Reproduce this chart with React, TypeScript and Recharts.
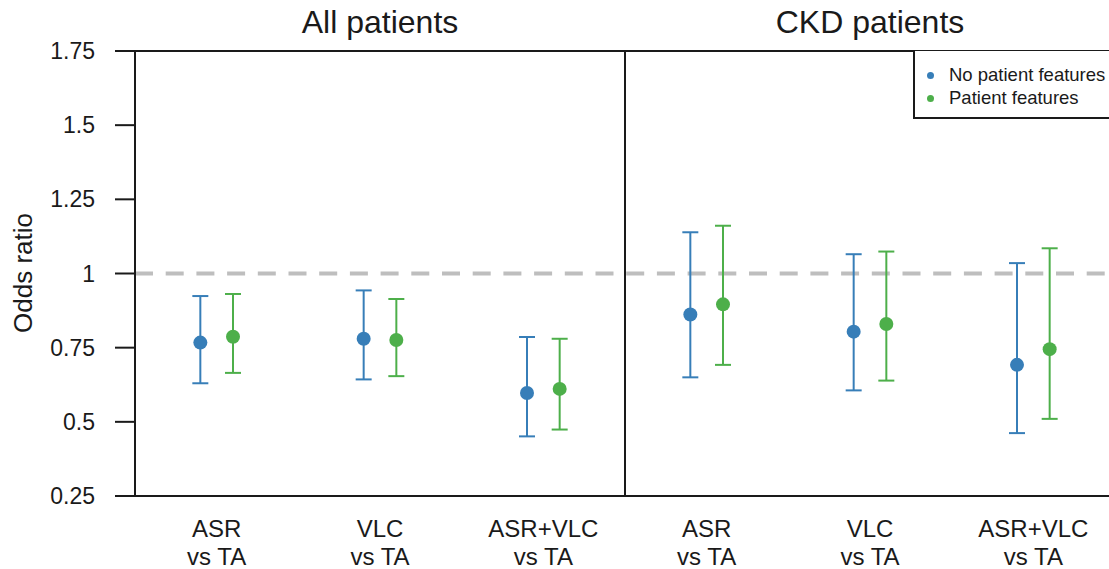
import { ComposedChart, Scatter, ErrorBar, XAxis, YAxis, ReferenceLine } from "recharts";

const comparisons = ["ASR", "VLC", "ASR+VLC"];
const panels = ["All patients", "CKD patients"];
const yTicks = [0.25, 0.5, 0.75, 1, 1.25, 1.5, 1.75];

// odds ratios with 95% CI, order: All (ASR, VLC, ASR+VLC), CKD (ASR, VLC, ASR+VLC)
const noFeatOR = [0.767, 0.78, 0.597, 0.862, 0.804, 0.692];
const noFeatLow = [0.63, 0.643, 0.451, 0.65, 0.606, 0.462];
const noFeatHigh = [0.924, 0.943, 0.786, 1.139, 1.065, 1.035];

const featOR = [0.787, 0.776, 0.611, 0.896, 0.83, 0.745];
const featLow = [0.665, 0.654, 0.474, 0.692, 0.639, 0.51];
const featHigh = [0.931, 0.914, 0.78, 1.161, 1.074, 1.085];

const BLUE = "#377EB8";
const GREEN = "#4DAF4A";
const INK = "#1a1a1a";
const FONT = "'Liberation Sans', Arial, sans-serif";

const build = (or: number[], lo: number[], hi: number[], shift: number) =>
  or.map((v, i) => ({ x: i + 0.5 + shift, y: v, err: [v - lo[i], hi[i] - v] }));

const noFeatData = build(noFeatOR, noFeatLow, noFeatHigh, -0.1);
const featData = build(featOR, featLow, featHigh, 0.1);

const labels = [...comparisons, ...comparisons];
const xTicks = labels.map((_, i) => i + 0.5);

const Dot = (color: string) => (p: any) => <circle cx={p.cx} cy={p.cy} r={7} fill={color} />;

const XTick = (p: any) => {
  const idx = xTicks.indexOf(p.payload.value);
  return (
    <text x={p.x} y={p.y} textAnchor="middle" fontSize={24} fill={INK} fontFamily={FONT}>
      <tspan x={p.x} dy={41}>{labels[idx]}</tspan>
      <tspan x={p.x} dy={28}>vs TA</tspan>
    </text>
  );
};

export default function App() {
  return (
    <div style={{ position: "absolute", left: 0, top: 0, width: 1109, height: 569, overflow: "hidden", background: "#fff", fontFamily: FONT }}>
      <ComposedChart width={1130} height={569} margin={{ top: 51, right: 15, left: 75, bottom: 43 }}>
        <XAxis
          type="number"
          dataKey="x"
          domain={[0, 6]}
          ticks={xTicks}
          height={30}
          tickSize={0}
          tickMargin={0}
          tickLine={false}
          tick={XTick}
          axisLine={{ stroke: INK, strokeWidth: 2 }}
          allowDataOverflow
        />
        <YAxis
          type="number"
          dataKey="y"
          width={60}
          domain={[0.25, 1.75]}
          ticks={yTicks}
          tickSize={20}
          tickMargin={20}
          interval={0}
          allowDataOverflow
          tick={{ fontSize: 23, fill: INK, fontFamily: FONT }}
          tickLine={{ stroke: INK, strokeWidth: 2 }}
          axisLine={{ stroke: INK, strokeWidth: 2 }}
        />
        <ReferenceLine y={1.75} stroke={INK} strokeWidth={2} />
        <ReferenceLine x={3} stroke={INK} strokeWidth={2} />
        <ReferenceLine y={1} stroke="#BEBEBE" strokeWidth={4} strokeDasharray="18 12.7" />
        <Scatter data={noFeatData} isAnimationActive={false} shape={Dot(BLUE)}>
          <ErrorBar dataKey="err" direction="y" width={8} stroke={BLUE} strokeWidth={2} />
        </Scatter>
        <Scatter data={featData} isAnimationActive={false} shape={Dot(GREEN)}>
          <ErrorBar dataKey="err" direction="y" width={8} stroke={GREEN} strokeWidth={2} />
        </Scatter>
      </ComposedChart>

      {panels.map((t, i) => (
        <div
          key={t}
          style={{ position: "absolute", left: 135 + i * 490, width: 490, top: 3, textAlign: "center", fontSize: 32, color: INK, lineHeight: "38px" }}
        >
          {t}
        </div>
      ))}

      <div
        style={{ position: "absolute", left: 23, top: 273, transform: "translate(-50%, -50%) rotate(-90deg)", fontSize: 26, color: INK, whiteSpace: "nowrap" }}
      >
        Odds ratio
      </div>

      <div
        style={{ position: "absolute", left: 913, top: 51, width: 220, height: 66, borderLeft: `2px solid ${INK}`, borderBottom: `2px solid ${INK}`, fontSize: 18.5, color: INK, background: "#fff" }}
      >
        {[{ name: "No patient features", color: BLUE }, { name: "Patient features", color: GREEN }].map((s, i) => (
          <div key={s.name} style={{ position: "absolute", left: 12, top: 13 + i * 23, display: "flex", alignItems: "center", lineHeight: "22px" }}>
            <span style={{ width: 7, height: 7, borderRadius: "50%", background: s.color, display: "inline-block", marginRight: 15 }} />
            {s.name}
          </div>
        ))}
      </div>
    </div>
  );
}
